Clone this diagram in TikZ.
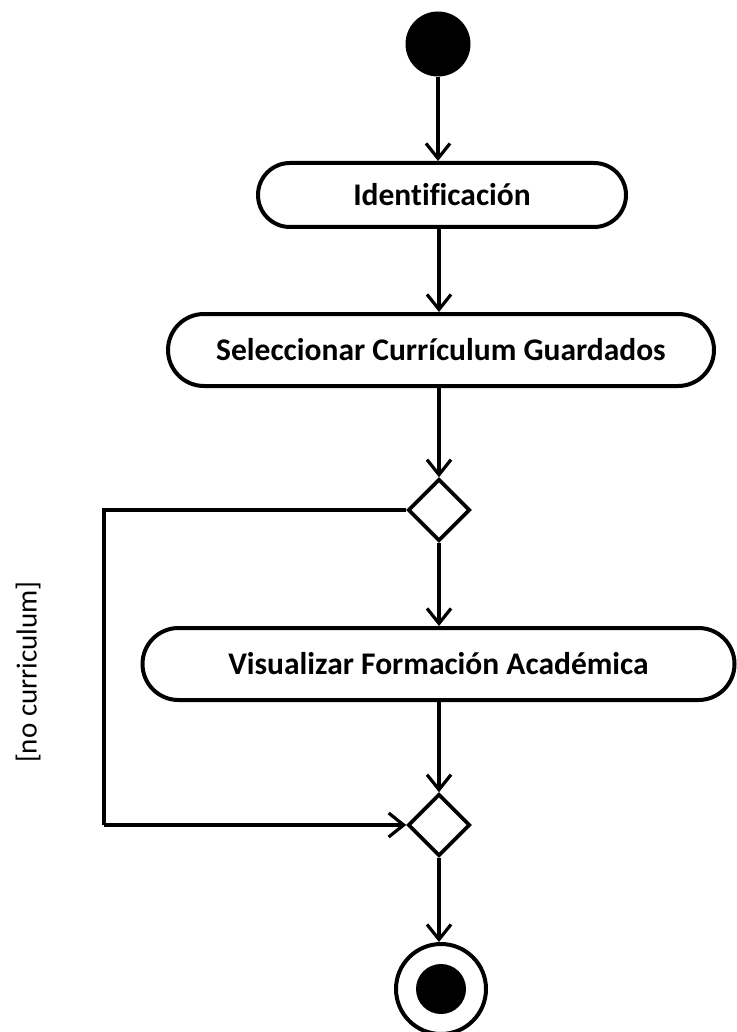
\documentclass[tikz,border=0pt]{standalone}
\usepackage{fontspec}
\setmainfont{Carlito}[Ligatures=NoCommon]
\usetikzlibrary{shapes.misc,shapes.geometric,arrows.meta}
\tikzset{
  act/.style={rounded rectangle, draw, line width=4pt, font=\bfseries\fontsize{31.5}{34}\selectfont, inner sep=0pt},
  dec/.style={diamond, draw, line width=3.6pt, minimum width=62pt, minimum height=62pt, inner sep=0pt, aspect=1},
  flow/.style={line width=3.2pt, -{Straight Barb[length=15pt,width=24pt,line width=3.2pt]}},
  edge/.style={line width=3.2pt},
}
\begin{document}
\begin{tikzpicture}[x=1pt,y=-1pt]
\useasboundingbox (0,0) rectangle (736,1032);
\node[circle, fill=black, minimum size=65pt, inner sep=0pt] (start) at (438,44) {};
\node[act, minimum width=368pt, minimum height=64pt] (ident) at (442,195) {Identificación};
\node[act, minimum width=546pt, minimum height=72pt] (sel) at (441,350) {Seleccionar Currículum Guardados};
\node[dec] (d1) at (439,510) {};
\node[act, minimum width=592pt, minimum height=72pt] (vis) at (438.5,664) {Visualizar Formación Académica};
\node[dec] (d2) at (439,825) {};
\node[circle, draw, line width=4pt, minimum size=90pt, inner sep=0pt] (end) at (441,989) {};
\node[circle, fill=black, minimum size=50pt, inner sep=0pt] (endin) at (end.center) {};
\coordinate (lt) at (104,510);
\coordinate (lb) at (104,825);
\node[rotate=90, font=\fontsize{29}{32}\selectfont] (lbl) at (28,672) {[no curriculum]};
\draw[flow] (start.south) -- (start.south |- ident.north);
\draw[flow] (ident.south -| d1.north) -- (d1.north |- sel.north);
\draw[flow] (sel.south -| d1.north) -- (d1.north);
\draw[flow] (d1.south) -- (d1.south |- vis.north);
\draw[flow] (vis.south -| d1.south) -- (d2.north);
\draw[flow] (d2.south) -- (d2.south |- end.north);
\draw[edge] (d1.west) -- (lt) -- (lb);
\draw[flow] (lb) -- (d2.west);
\end{tikzpicture}
\end{document}
